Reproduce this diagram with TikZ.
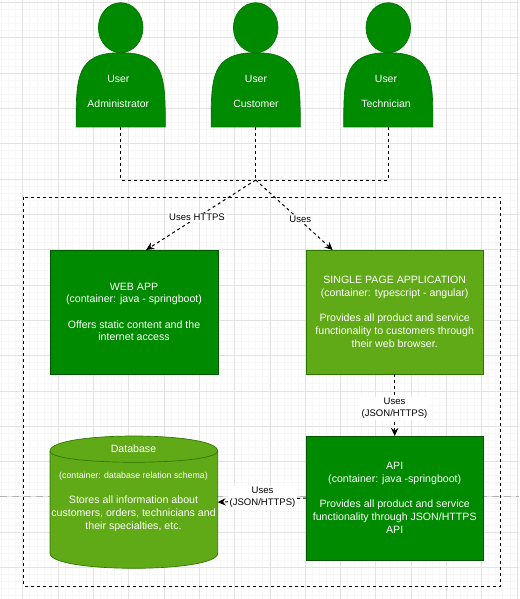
\documentclass[tikz,border=0pt]{standalone}
\usepackage{fontspec}
\setmainfont{Liberation Sans}
\usetikzlibrary{arrows.meta}
\definecolor{darkgreen}{HTML}{008A00}
\definecolor{darkline}{HTML}{005700}
\definecolor{lightgreen}{HTML}{60A917}
\definecolor{lightline}{HTML}{2D7600}
\begin{document}
\begin{tikzpicture}[x=0.75pt,y=-0.75pt,>={Stealth[length=6pt,width=5.5pt]},
    minorline/.style={draw=black!3,line width=0.75pt},
    gridline/.style={draw=black!11,line width=0.75pt},
    pagebreak/.style={draw=black!30,line width=0.6pt,dash pattern=on 5pt off 4pt},
    usershape/.style={fill=darkgreen,draw=darkgreen!85!black,line width=0.5pt},
    usernode/.style={minimum width=67pt,minimum height=93.4pt,inner sep=0pt,outer sep=0pt},
    userlabel/.style={text=white,font=\fontsize{7.85}{9}\selectfont,align=center,inner sep=0pt},
    darkbox/.style={draw=darkline,fill=darkgreen,line width=0.5pt,text=white,align=center,inner sep=0pt,outer sep=0pt,font=\fontsize{7.95}{9.5}\selectfont},
    lightbox/.style={darkbox,draw=lightline,fill=lightgreen},
    dep/.style={line width=0.75pt,dash pattern=on 2.25pt off 2.25pt},
    deplabel/.style={fill=white,align=center,inner sep=1pt,font=\fontsize{7.15}{9}\selectfont}]
    \useasboundingbox (0,0) rectangle (519,599);
    \fill[white] (0,0) rectangle (519,599);

    \foreach \k in {0,...,73} \draw[minorline] (1.7+7.06*\k,0) -- (1.7+7.06*\k,599);
    \foreach \k in {0,...,84} \draw[minorline] (0,2.7+7.06*\k) -- (519,2.7+7.06*\k);
    \foreach \k in {0,...,14} \draw[gridline] (22.9+35.3*\k,0) -- (22.9+35.3*\k,599);
    \foreach \k in {0,...,16} \draw[gridline] (0,2.7+35.3*\k) -- (519,2.7+35.3*\k);
    \draw[pagebreak] (0,496.8) -- (519,496.8);

    \foreach \x in {120.7,255.7,388.3} {
        \draw[usershape] (\x,27.7) ellipse (22.3 and 25);
        \draw[usershape] (\x-44.6,127) .. controls (\x-44.6,77.5) and (\x-44.6,52.7) .. (\x,52.7)
            .. controls (\x+44.6,52.7) and (\x+44.6,77.5) .. (\x+44.6,127) -- cycle;
    }
    \node[usernode] (admin) at (120.7,65) {};
    \node[usernode] (customer) at (255.7,65) {};
    \node[usernode] (tech) at (388.3,65) {};
    \node[userlabel] (adminlabel) at (118.3,91) {User\\[9.75pt]Administrator};
    \node[userlabel] (customerlabel) at (256,91) {User\\[9.75pt]Customer};
    \node[userlabel] (techlabel) at (386,91) {User\\[9.75pt]Technician};

    \draw[dep] (23.3,197.3) rectangle (500.7,586);

    \node[darkbox,minimum width=126pt,minimum height=93pt] (webapp) at (134,312) {WEB APP\\(container: java - springboot)\\[9.5pt]Offers static content and the\\internet access};
    \node[lightbox,minimum width=133pt,minimum height=93pt] (spa) at (394.7,312) {SINGLE PAGE APPLICATION\\(container: typescript - angular)\\[9.5pt]Provides all product and service\\functionality to customers through\\their web browser.};
    \node[darkbox,minimum width=133pt,minimum height=93pt] (api) at (394.7,498) {API\\(container: java -springboot)\\[9.5pt]Provides all product and service\\functionality through JSON/HTTPS\\API};

    \draw[draw=lightline,fill=lightgreen,line width=0.5pt] (50,451) .. controls (50,431) and (217.7,431) .. (217.7,451)
        -- (217.7,553.3) .. controls (217.7,573.3) and (50,573.3) .. (50,553.3) -- cycle;
    \draw[draw=lightline,line width=0.5pt] (50,451) .. controls (50,466) and (217.7,466) .. (217.7,451);
    \node[minimum width=125.8pt,minimum height=99.2pt,inner sep=0pt,outer sep=0pt] (database) at (133.8,502.2) {};
    \node[darkbox,draw=none,fill=none] (dbtitle) at (133.5,448.7) {Database};
    \node[darkbox,draw=none,fill=none] (dbinfo) at (133.5,501.7) {{\fontsize{6.6}{9.5}\selectfont (container: database relation schema)}\\[9.5pt]Stores all information about\\customers, orders, technicians and\\their specialties, etc.};

    \coordinate (hub) at (255.7,180);
    \draw[dep] (admin.south) |- (hub);
    \draw[dep] (tech.south) |- (hub);
    \draw[dep] (customer.south) -- (hub);
    \draw[dep,->] (hub) -- (webapp.79);
    \draw[dep,->] (hub) -- (spa.135.5);
    \draw[dep,->] (spa.south) -- (api.north);
    \draw[dep,->] (api.west) -- (database.east);

    \node[deplabel] (uses1) at (197,217.3) {Uses HTTPS};
    \node[deplabel] (uses2) at (300.3,219.3) {Uses};
    \node[deplabel] (uses3) at (394.5,408.7) {Uses\\(JSON/HTTPS)};
    \node[deplabel] (uses4) at (262.5,497.2) {Uses\\(JSON/HTTPS)};
\end{tikzpicture}
\end{document}
